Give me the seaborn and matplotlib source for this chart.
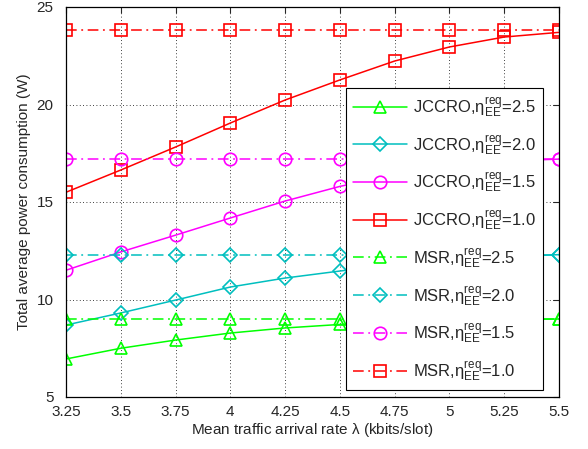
import matplotlib
matplotlib.use("Agg")
import matplotlib.pyplot as plt
import seaborn as sns
import numpy as np

x = [3.25, 3.5, 3.75, 4.0, 4.25, 4.5, 4.75, 5.0, 5.25, 5.5]
xticklabels = ["3.25", "3.5", "3.75", "4", "4.25", "4.5", "4.75", "5", "5.25", "5.5"]

jccro_25 = [6.95, 7.5, 7.92, 8.28, 8.54, 8.72, 8.84, 8.92, 8.97, 9.0]
jccro_20 = [8.69, 9.31, 9.97, 10.64, 11.1, 11.46, 11.8, 12.05, 12.2, 12.3]
jccro_15 = [11.5, 12.44, 13.3, 14.18, 15.05, 15.8, 16.4, 16.85, 17.1, 17.2]
jccro_10 = [15.5, 16.64, 17.82, 19.05, 20.23, 21.26, 22.23, 22.95, 23.46, 23.7]
msr_25 = [9.0] * 10
msr_20 = [12.28] * 10
msr_15 = [17.2] * 10
msr_10 = [23.8] * 10

sns.set_style("white")
plt.rcParams['font.family'] = ['Liberation Sans', 'DejaVu Sans']
plt.rcParams['mathtext.fontset'] = 'custom'
plt.rcParams['mathtext.rm'] = 'Liberation Sans'
plt.rcParams['mathtext.it'] = 'Liberation Sans'

fig = plt.figure(figsize=(5.88, 4.49), dpi=100)
ax = fig.add_axes([66/588, 1-397/449, (559-66)/588, (397-7)/449])

cols = {'2.5': '#00FF00', '2.0': '#00BFBF', '1.5': '#FF00FF', '1.0': '#FF0000'}
marks = {'2.5': '^', '2.0': 'D', '1.5': 'o', '1.0': 's'}
msz = {'2.5': 9, '2.0': 7, '1.5': 9, '1.0': 8}

series = [
    ('JCCRO', '2.5', jccro_25, '-'),
    ('JCCRO', '2.0', jccro_20, '-'),
    ('JCCRO', '1.5', jccro_15, '-'),
    ('JCCRO', '1.0', jccro_10, '-'),
    ('MSR', '2.5', msr_25, '-.'),
    ('MSR', '2.0', msr_20, '-.'),
    ('MSR', '1.5', msr_15, '-.'),
    ('MSR', '1.0', msr_10, '-.'),
]
for name, eta, y, ls in series:
    lbl = name + r',$\mathregular{\eta_{EE}^{req}}$=' + eta
    sns.lineplot(x=x, y=y, ax=ax, color=cols[eta], marker=marks[eta],
                 markersize=msz[eta], markerfacecolor='none',
                 markeredgecolor=cols[eta], markeredgewidth=1.2,
                 linewidth=1.1, label=lbl, linestyle=ls)
    l = ax.get_lines()[-1]
    if ls == '-.':
        l.set_dashes([7, 3, 1.2, 3])

ax.set_xlim(3.25, 5.5)
ax.set_ylim(5, 25)
ax.set_xticks(x)
ax.set_xticklabels(xticklabels)
ax.set_yticks([5, 10, 15, 20, 25])
ax.tick_params(direction='in', top=True, right=True, labelsize=11, length=4, width=0.8)
ax.tick_params(axis='y', pad=9)
ax.tick_params(axis='x', pad=6)
ax.grid(True, color='black', linestyle=(0, (1, 3)), linewidth=0.6)
for s in ax.spines.values():
    s.set_color('black')
    s.set_linewidth(0.9)
ax.set_xlabel(r'Mean traffic arrival rate $\mathregular{\lambda}$ (kbits/slot)', fontsize=11, labelpad=1)
ax.set_ylabel('Total average power consumption (W)', fontsize=11, labelpad=4)

leg = ax.legend(loc='lower right', bbox_to_anchor=((543-66)/493, (397-390)/390),
                borderaxespad=0, fontsize=12, frameon=True, fancybox=False,
                edgecolor='black', framealpha=1, handlelength=3.2,
                labelspacing=0.84, borderpad=0.42, handletextpad=0.4)
leg.get_frame().set_linewidth(0.8)

fig.savefig('out.png', dpi=100)
